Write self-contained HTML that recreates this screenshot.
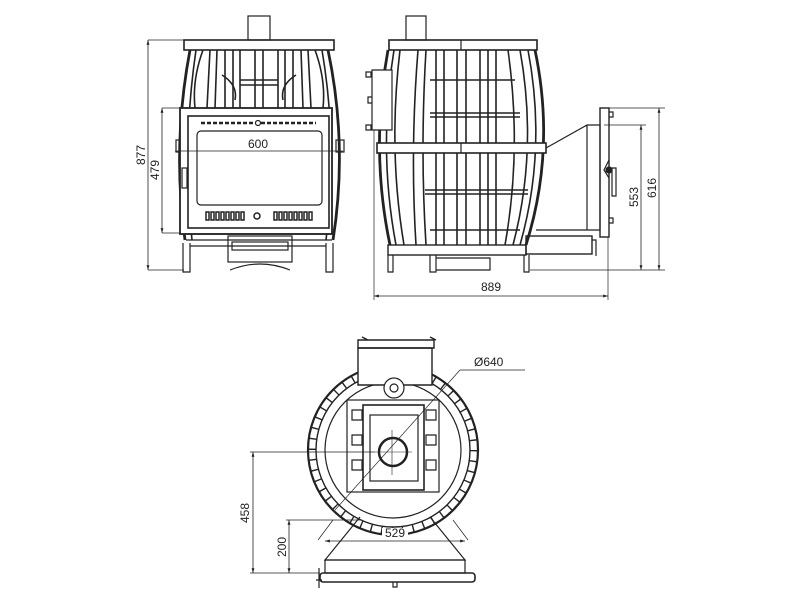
<!DOCTYPE html>
<html><head><style>body{margin:0;background:#fff}svg{display:block}</style></head><body>
<svg width="800" height="600" viewBox="0 0 800 600" xmlns="http://www.w3.org/2000/svg" font-family="Liberation Sans, sans-serif" fill="none" stroke="#222" stroke-width="1.2">
<defs><marker id="a" viewBox="0 0 10 10" refX="10" refY="5" markerWidth="6" markerHeight="6" orient="auto-start-reverse"><path d="M0,2 L10,5 L0,8 z" fill="#222" stroke="none"/></marker></defs>
<!-- FRONT VIEW -->
<rect x="248" y="16" width="22" height="24"/>
<rect x="184" y="40" width="150" height="10" stroke-width="1.6"/>
<path d="M190,50 Q172,145 185,240 M328,50 Q348,145 333,240" stroke-width="2.8"/>
<path d="M196,50 Q182,145 192,240 M322,50 Q338,145 326,240 M203,50 Q192,80 195,108 M315,50 Q326,80 323,108 M210,50 L207,108 M308,50 L311,108 M217,50 L215,108 M301,50 L303,108" stroke-width="1.6"/>
<path d="M225,50 V108 M233,50 V108 M240,50 V108 M278,50 V108 M285,50 V108 M293,50 V108 M255,50 V108 M263,50 V108 M240,80 H278 M240,85 H278" stroke-width="1.6"/>
<path d="M222,75 Q238,85 235,100 M296,75 Q280,85 283,100" stroke-width="1.6"/>
<rect x="176" y="140" width="8" height="12"/><rect x="336" y="140" width="8" height="12"/>
<rect x="180" y="108" width="152" height="126" stroke-width="1.8" fill="#fff"/>
<rect x="188" y="116" width="141" height="112" stroke-width="1.6"/>
<rect x="197" y="131" width="125" height="74" rx="4"/>
<line x1="201" y1="123" x2="316" y2="123" stroke-width="2.5" stroke-dasharray="4,2"/>
<circle cx="258" cy="123" r="2.5" fill="#fff"/>
<rect x="182" y="168" width="5" height="20"/>
<text x="258" y="148" font-size="12" fill="#222" stroke="none" text-anchor="middle">600</text>
<line x1="175" y1="151" x2="343" y2="151" stroke-width="0.8"/>
<g fill="none" stroke-width="1.5"><path d="M206,212h3v8h-3z M211,212h3v8h-3z M216,212h3v8h-3z M221,212h3v8h-3z M226,212h3v8h-3z M231,212h3v8h-3z M236,212h3v8h-3z M241,212h3v8h-3z M274,212h3v8h-3z M279,212h3v8h-3z M284,212h3v8h-3z M289,212h3v8h-3z M294,212h3v8h-3z M299,212h3v8h-3z M304,212h3v8h-3z M309,212h3v8h-3z"/><circle cx="257" cy="216" r="3"/></g>
<path d="M186,234 H332 M186,240 H332" />
<rect x="228" y="236" width="64" height="26"/><rect x="232" y="242" width="56" height="8"/>
<path d="M230,270 Q260,258 290,270"/>
<path d="M183,243 V272 H190 V243 M326,243 V272 H333 V243 M190,246 H326"/>
<!-- front dims -->
<path d="M148,40 H184 M148,270 H184 M162,108 H180 M162,233 H180" stroke-width="0.7"/>
<line x1="148" y1="40" x2="148" y2="270" stroke-width="0.8" marker-start="url(#a)" marker-end="url(#a)"/>
<line x1="162" y1="108" x2="162" y2="233" stroke-width="0.8" marker-start="url(#a)" marker-end="url(#a)"/>
<text transform="translate(145,155) rotate(-90)" font-size="12" fill="#222" stroke="none" text-anchor="middle">877</text>
<text transform="translate(159,170) rotate(-90)" font-size="12" fill="#222" stroke="none" text-anchor="middle">479</text>
<!-- SIDE VIEW -->
<rect x="406" y="16" width="20" height="24"/>
<rect x="389" y="40" width="148" height="10" stroke-width="1.6"/><line x1="461" y1="40" x2="461" y2="50"/>
<path d="M388,50 Q370,150 390,245 M535,50 Q556,150 526,245" stroke-width="2.8"/>
<path d="M394,50 Q378,150 396,245 M528,50 Q547,150 520,245 M400,50 Q388,150 404,245 M520,50 Q538,150 513,245 M418,50 Q410,150 416,245 M508,50 Q522,150 505,245 M426,50 Q420,150 426,245" stroke-width="1.6"/>
<path d="M436,50 V245 M444,50 V245 M457,50 V245 M466,50 V245 M480,50 V245 M488,50 V245 M496,50 V245" stroke-width="1.6"/>
<path d="M430,80 H515 M430,113 H520 M430,117 H520 M425,190 H528 M425,194 H528 M430,230 H520" stroke-width="1.4"/>
<rect x="377" y="143" width="169" height="10" stroke-width="1.6" fill="#fff"/><line x1="461" y1="143" x2="461" y2="153"/>
<path d="M372,70 H392 V130 H372 Z M366,72 h5 v5 h-5z M366,125 h5 v5 h-5z M368,97 h4 v6 h-4z" fill="#fff"/>
<rect x="388" y="245" width="138" height="10" stroke-width="1.4"/>
<path d="M388,255 V272 H393 V255 M430,255 V272 H436 V255 M436,258 H490 V270 H436 M524,255 V272 H529 V255"/>
<path d="M546,148 L587,125 H600 V230 H536 M587,125 V230"/>
<rect x="600" y="108" width="9" height="129" stroke-width="1.4"/>
<path d="M609,112 h4 v5 h-4 M609,218 h4 v5 h-4 M609,160 L604,170 L609,178 M612,168 h4 v28 h-4z"/>
<circle cx="609" cy="170" r="3" fill="#222"/>
<rect x="526" y="236" width="66" height="18" stroke-width="1.4"/><path d="M592,240 h4 v16"/>
<!-- side dims -->
<path d="M374,130 V300 M608,237 V300 M609,108 H665 M604,125 H646 M530,270 H665" stroke-width="0.7"/>
<line x1="374" y1="296" x2="608" y2="296" stroke-width="0.8" marker-start="url(#a)" marker-end="url(#a)"/>
<line x1="641" y1="125" x2="641" y2="270" stroke-width="0.8" marker-start="url(#a)" marker-end="url(#a)"/>
<line x1="659" y1="108" x2="659" y2="270" stroke-width="0.8" marker-start="url(#a)" marker-end="url(#a)"/>
<text x="491" y="291" font-size="12" fill="#222" stroke="none" text-anchor="middle">889</text>
<text transform="translate(638,197) rotate(-90)" font-size="12" fill="#222" stroke="none" text-anchor="middle">553</text>
<text transform="translate(656,188) rotate(-90)" font-size="12" fill="#222" stroke="none" text-anchor="middle">616</text>
<!-- TOP VIEW -->
<circle cx="393" cy="450" r="85" stroke-width="2.2"/>
<circle cx="393" cy="450" r="77" stroke-width="1.4"/>
<circle cx="393" cy="450" r="68" stroke-width="1.2"/>
<circle cx="393" cy="450" r="81" stroke-width="8" stroke-dasharray="1.4,9.2"/>
<path d="M358,348 V385 H432 V348 Z" fill="#fff" stroke-width="1.4"/>
<path d="M358,340 H434 V348 H358 Z M362,337 L368,340 M430,337 L436,340" stroke-width="1.4"/>
<circle cx="394" cy="388" r="10" fill="#fff"/><circle cx="394" cy="388" r="4"/>
<rect x="347" y="400" width="92" height="92"/>
<rect x="363" y="405" width="61" height="85" stroke-width="1.6"/>
<rect x="370" y="415" width="48" height="66"/>
<path d="M352,410 h10 v10 h-10z M352,435 h10 v10 h-10z M352,460 h10 v10 h-10z M426,410 h10 v10 h-10z M426,435 h10 v10 h-10z M426,460 h10 v10 h-10z"/>
<circle cx="393" cy="452" r="14" stroke-width="2.5"/>
<path d="M392,430 V475 M375,452 H412" stroke-width="0.6"/>
<path d="M333,520 L318,540 M453,520 L468,540" stroke-width="0.7"/>
<path d="M360,517 L325,560 H465 L430,517" stroke-width="1.2"/>
<rect x="325" y="560" width="140" height="13"/>
<rect x="320" y="573" width="155" height="9" rx="3" stroke-width="1.6"/>
<path d="M319,568 v20 M316,580 h6 M393,582 v5 h4 v-5"/>
<!-- top dims -->
<path d="M250,452 H375 M286,520 H360 M250,573 H320" stroke-width="0.7"/>
<line x1="253" y1="452" x2="253" y2="573" stroke-width="0.8" marker-start="url(#a)" marker-end="url(#a)"/>
<line x1="289" y1="520" x2="289" y2="573" stroke-width="0.8" marker-start="url(#a)" marker-end="url(#a)"/>
<line x1="325" y1="541" x2="465" y2="541" stroke-width="0.8" marker-start="url(#a)" marker-end="url(#a)"/>
<line x1="335" y1="510" x2="460" y2="370" stroke-width="0.7"/>
<line x1="460" y1="370" x2="525" y2="370" stroke-width="0.7"/>
<rect x="382" y="528" width="26" height="11" fill="#fff" stroke="none"/>
<text x="395" y="537" font-size="12" fill="#222" stroke="none" text-anchor="middle">529</text>
<text transform="translate(249,513) rotate(-90)" font-size="12" fill="#222" stroke="none" text-anchor="middle">458</text>
<text transform="translate(286,547) rotate(-90)" font-size="12" fill="#222" stroke="none" text-anchor="middle">200</text>
<text x="474" y="366" font-size="12" fill="#222" stroke="none">Ø640</text>
</svg>
</body></html>
